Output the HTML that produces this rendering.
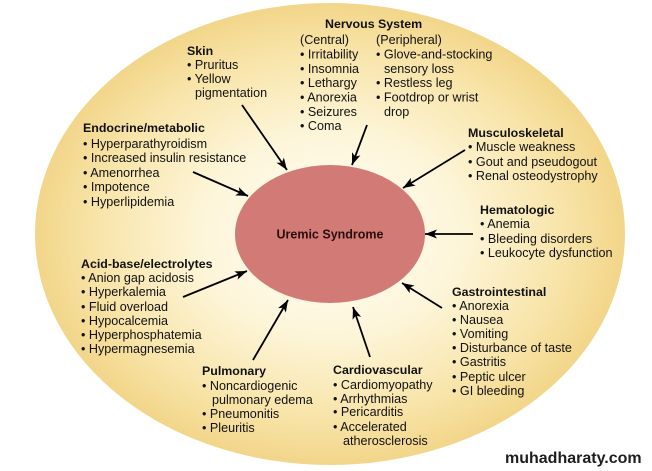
<!DOCTYPE html>
<html>
<head>
<meta charset="utf-8">
<style>
html,body{margin:0;padding:0;background:#fff;}
svg{display:block;}
text{font-family:"Liberation Sans",Arial,sans-serif;font-size:12.6px;fill:#111;}
.b{font-weight:bold;font-size:12.4px;}
</style>
</head>
<body>
<svg width="652" height="471" viewBox="0 0 652 471" xmlns="http://www.w3.org/2000/svg">
<defs>
<radialGradient id="g" cx="330" cy="234" r="295" gradientUnits="userSpaceOnUse" gradientTransform="translate(330 234) scale(1 0.785) translate(-330 -234)">
<stop offset="0" stop-color="#fffef8"/>
<stop offset="0.45" stop-color="#fdf5d8"/>
<stop offset="0.8" stop-color="#f8e4a8"/>
<stop offset="1" stop-color="#f2d589"/>
</radialGradient>
<marker id="ah" markerUnits="userSpaceOnUse" markerWidth="14" markerHeight="10" refX="12" refY="4.5" orient="auto">
<path d="M0,0 L12,4.5 L0,9 L3,4.5 z" fill="#000"/>
</marker>
</defs>
<rect width="652" height="471" fill="#fff"/>
<ellipse cx="330" cy="234" rx="295" ry="231" fill="url(#g)"/>
<ellipse cx="330" cy="234" rx="95" ry="69" fill="#d27a75"/>
<text x="330" y="238.5" text-anchor="middle" class="b" style="font-size:12.5px;fill:#2a0f0f">Uremic Syndrome</text>

<g stroke="#000" stroke-width="1.8" fill="none" marker-end="url(#ah)">
<line x1="242" y1="105" x2="287" y2="170"/>
<line x1="193" y1="172" x2="248" y2="196"/>
<line x1="367" y1="125" x2="352" y2="165"/>
<line x1="465" y1="150" x2="403" y2="188"/>
<line x1="473" y1="234" x2="425" y2="234"/>
<line x1="442" y1="308" x2="402" y2="283"/>
<line x1="370" y1="357" x2="353" y2="307"/>
<line x1="253" y1="360" x2="288" y2="300"/>
<line x1="183" y1="297" x2="247" y2="271"/>
</g>

<!-- Skin -->
<text x="187" y="55" class="b">Skin</text>
<text x="187" y="69">• Pruritus</text>
<text x="187" y="83">• Yellow</text>
<text x="195" y="97">pigmentation</text>

<!-- Nervous System -->
<text x="325" y="28" class="b">Nervous System</text>
<text x="300" y="44">(Central)</text>
<text x="300" y="58.5">• Irritability</text>
<text x="300" y="73">• Insomnia</text>
<text x="300" y="87">• Lethargy</text>
<text x="300" y="101.5">• Anorexia</text>
<text x="300" y="116">• Seizures</text>
<text x="300" y="130">• Coma</text>
<text x="376" y="44">(Peripheral)</text>
<text x="376" y="58.5">• Glove-and-stocking</text>
<text x="384" y="73">sensory loss</text>
<text x="376" y="87">• Restless leg</text>
<text x="376" y="101.5">• Footdrop or wrist</text>
<text x="384" y="116">drop</text>

<!-- Endocrine -->
<text x="83" y="132" class="b">Endocrine/metabolic</text>
<text x="83" y="148">• Hyperparathyroidism</text>
<text x="83" y="162">• Increased insulin resistance</text>
<text x="83" y="177">• Amenorrhea</text>
<text x="83" y="191">• Impotence</text>
<text x="83" y="206">• Hyperlipidemia</text>

<!-- Musculoskeletal -->
<text x="468" y="137" class="b">Musculoskeletal</text>
<text x="468" y="151">• Muscle weakness</text>
<text x="468" y="166">• Gout and pseudogout</text>
<text x="468" y="180">• Renal osteodystrophy</text>

<!-- Hematologic -->
<text x="480" y="214" class="b">Hematologic</text>
<text x="480" y="228">• Anemia</text>
<text x="480" y="243">• Bleeding disorders</text>
<text x="480" y="257">• Leukocyte dysfunction</text>

<!-- Gastrointestinal -->
<text x="452" y="296" class="b">Gastrointestinal</text>
<text x="452" y="310">• Anorexia</text>
<text x="452" y="324">• Nausea</text>
<text x="452" y="338">• Vomiting</text>
<text x="452" y="352">• Disturbance of taste</text>
<text x="452" y="366">• Gastritis</text>
<text x="452" y="381">• Peptic ulcer</text>
<text x="452" y="395">• GI bleeding</text>

<!-- Cardiovascular -->
<text x="333" y="374" class="b">Cardiovascular</text>
<text x="333" y="389">• Cardiomyopathy</text>
<text x="333" y="403">• Arrhythmias</text>
<text x="333" y="416">• Pericarditis</text>
<text x="333" y="431">• Accelerated</text>
<text x="343" y="445">atherosclerosis</text>

<!-- Pulmonary -->
<text x="202" y="375" class="b">Pulmonary</text>
<text x="202" y="390">• Noncardiogenic</text>
<text x="212" y="404">pulmonary edema</text>
<text x="202" y="418">• Pneumonitis</text>
<text x="202" y="432">• Pleuritis</text>

<!-- Acid-base -->
<text x="81" y="268" class="b">Acid-base/electrolytes</text>
<text x="81" y="282">• Anion gap acidosis</text>
<text x="81" y="296">• Hyperkalemia</text>
<text x="81" y="311">• Fluid overload</text>
<text x="81" y="325">• Hypocalcemia</text>
<text x="81" y="339">• Hyperphosphatemia</text>
<text x="81" y="353">• Hypermagnesemia</text>

<!-- Watermark -->
<text x="505" y="463" class="b" style="font-size:16px;fill:#1e1e1e">muhadharaty.com</text>
</svg>
</body>
</html>
